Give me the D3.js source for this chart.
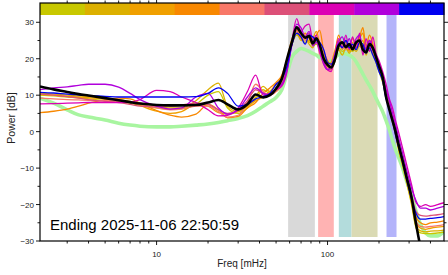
<!DOCTYPE html>
<html><head><meta charset="utf-8">
<script src="https://cdn.jsdelivr.net/npm/d3@7"></script>
<style>body{margin:0;background:#fff}svg{display:block;font-family:"Liberation Sans",Arial,Helvetica,sans-serif}</style>
</head><body><svg id="c" width="448" height="275"></svg>
<script>
const freqs = [2.08,2.5,3,3.5,4,5,6,7,8,10,12,14,17,20,23,26,30,34,38,42,46,50,54,58,
 62,66,70,74,78,82,86,90,95,100,105,110,116,122,128,134,140,147,154,161,168,176,184,192,200,210,220,230,240,250,260,275,290,310,330,350,375,400,440,480];
const avgPower = [12.4,11.6,10.9,10.3,9.9,9.2,8.6,8.1,7.7,7.3,7.2,7.2,7.3,8.0,8.7,7.5,6.1,7.5,10.2,9.4,10.0,11.8,14.5,20.0,
 24.7,28.6,27.0,25.8,26.2,24.2,25.6,23.8,20.0,18.3,17.6,19.5,23.5,24.5,23.2,24.0,22.6,24.5,25.0,22.5,21.8,24.0,23.0,20.5,18.0,15.0,9.5,6.0,3.0,0.0,-3.5,-8.0,-12.5,-18.0,-25.5,-31.5,-34,-35,-35,-35];
const refModel = [9.2,7.8,6.0,4.6,4.0,3.2,2.3,1.8,1.5,1.3,1.3,1.5,1.8,2.1,2.5,3.0,3.6,4.4,5.6,7.0,8.2,9.4,11.5,16.0,
 20.5,22.0,22.8,22.5,22.0,21.5,21.0,20.3,19.6,19.0,19.3,20.2,21.2,21.5,21.4,21.0,20.4,19.2,17.5,15.8,14.2,12.6,11.0,9.2,7.5,5.5,3.0,0.5,-2.5,-5.0,-7.0,-10.0,-13.5,-17.5,-22.0,-25.5,-27.8,-28.6,-28.6,-27.4];
const s1 = [10.0,9.8,9.5,9.3,9.0,8.5,8.2,7.8,7.2,6.5,6.2,6.3,7.5,10.0,11.0,6.5,5.0,6.5,9.0,11.5,10.5,11.0,13.0,18.0,
 24.0,26.5,25.5,24.5,25.0,23.5,24.0,22.5,20.0,18.5,18.0,19.5,23.0,22.0,22.5,22.5,22.0,23.0,23.5,23.5,22.0,22.5,21.5,19.0,16.5,13.5,9.5,6.0,2.5,-1.0,-5.0,-9.5,-14.0,-20.0,-26.5,-27.8,-28.0,-28.0,-27.8,-27.6];
const s2 = [10.6,10.3,10.0,9.8,9.6,9.2,8.8,8.3,7.8,7.0,6.5,6.5,8.5,11.5,13.3,7.0,5.5,7.0,9.5,12.4,11.0,11.5,13.5,18.5,
 24.5,27.0,25.0,25.5,24.0,23.0,25.0,23.0,19.5,18.0,17.0,19.0,22.5,21.0,23.0,21.5,23.0,22.0,24.0,25.0,21.0,23.5,22.0,19.5,17.0,14.0,10.0,6.5,3.0,-0.5,-4.5,-9.0,-13.5,-19.5,-26.0,-27.2,-27.5,-27.3,-27.2,-27.0];
const s3 = [10.2,10.0,9.7,9.5,9.3,9.0,8.8,8.2,7.2,5.6,5.0,5.5,7.5,7.0,5.2,4.8,5.5,7.0,8.5,9.5,11.0,13.0,15.0,19.5,
 25.0,28.0,25.5,26.5,24.5,25.5,27.5,24.0,21.0,18.5,19.0,22.0,25.0,22.5,24.5,22.0,24.5,23.0,25.5,27.0,22.5,25.0,23.5,20.0,17.5,15.0,10.5,7.0,4.0,0.0,-4.0,-8.5,-13.0,-19.0,-25.0,-26.5,-26.8,-26.5,-26.2,-26.0];
const s4 = [5.2,5.6,6.2,7.0,7.8,8.7,9.2,9.0,7.8,5.8,4.5,4.0,4.8,7.5,6.0,3.8,4.2,6.5,8.0,10.5,12.0,13.5,15.5,20.0,
 25.5,27.5,26.0,27.0,25.5,24.0,26.5,27.8,22.0,19.5,18.5,21.0,26.5,24.0,25.0,23.5,25.5,24.0,26.0,28.5,23.5,26.5,24.0,21.0,18.5,15.5,11.0,7.5,4.5,0.5,-3.5,-8.0,-12.5,-18.0,-23.5,-25.0,-25.5,-25.0,-24.8,-24.5];
const s5 = [9.2,9.0,8.8,8.7,8.6,8.5,8.4,8.0,7.5,6.5,6.0,6.2,7.0,7.0,5.5,4.0,4.5,8.0,13.0,11.0,10.0,11.0,13.0,17.5,
 24.5,27.5,26.5,25.0,26.0,24.5,25.0,22.0,19.5,17.5,17.5,20.0,23.5,23.5,22.5,23.5,22.5,24.0,23.5,22.5,22.5,23.5,22.0,20.0,17.5,14.5,10.5,7.0,3.5,0.0,-4.0,-8.5,-13.0,-18.5,-24.5,-26.0,-26.2,-26.0,-25.8,-25.5];
const s6 = [10.3,10.0,9.6,9.2,8.8,8.3,8.0,7.5,7.0,6.8,7.0,7.3,7.8,7.5,6.0,5.0,5.8,8.5,11.5,10.5,10.0,11.5,13.0,17.5,
 24.0,28.0,27.0,25.5,27.0,24.0,24.5,21.5,18.5,17.0,17.0,20.5,24.0,24.5,23.0,24.0,23.5,24.5,25.0,22.0,23.0,24.5,22.5,20.5,18.0,15.0,11.0,7.5,4.0,0.5,-3.0,-7.5,-12.0,-17.5,-22.0,-23.0,-23.2,-23.0,-22.8,-22.5];
const s7 = [7.6,7.7,7.8,7.9,8.0,8.0,8.0,8.1,8.8,11.3,11.0,9.5,8.0,6.0,4.3,4.5,6.5,11.0,15.5,10.0,10.5,11.5,12.5,16.5,
 25.0,31.0,27.5,29.0,29.5,25.0,26.5,22.0,19.0,17.0,16.5,20.5,25.5,23.0,26.5,22.5,26.0,23.0,27.0,21.0,25.5,22.0,26.0,21.5,19.5,16.5,13.0,9.0,6.5,3.0,0.0,-4.5,-9.0,-14.5,-19.5,-20.5,-20.0,-20.5,-20.0,-19.5];
const s8 = [11.5,12.0,12.3,12.7,13.0,13.0,12.2,10.5,8.8,7.0,6.2,6.5,9.5,10.5,6.5,4.8,6.0,9.5,12.0,10.5,10.0,12.0,13.0,17.0,
 24.0,29.5,28.5,26.0,27.5,23.5,24.5,22.5,18.5,17.0,18.0,21.0,24.5,26.0,23.5,25.5,23.0,25.5,26.5,22.0,23.0,25.0,22.5,21.0,18.5,15.0,11.5,8.5,5.0,2.0,-1.5,-6.0,-10.5,-15.5,-19.0,-21.0,-21.0,-21.5,-21.0,-20.5];
const s9 = [10.8,10.6,10.3,10.1,9.9,9.7,9.5,9.5,9.5,9.5,9.5,9.5,9.6,10.5,12.0,10.5,7.0,7.5,9.0,9.6,10.5,13.0,14.5,18.0,
 24.0,27.0,26.0,24.0,26.5,26.0,25.0,24.5,22.5,19.0,18.5,20.0,24.0,23.0,25.0,23.0,24.0,22.5,24.5,24.0,21.5,23.0,21.0,19.0,16.5,14.0,9.0,6.5,3.0,-1.0,-4.0,-8.5,-13.0,-18.5,-22.5,-24.0,-24.0,-23.8,-23.6,-23.3];
const seriesColors = ["#c8c800","#dcb000","#f0a000","#f88800","#f87868","#dc5078","#dc00b4","#b000dc","#0000f0"];
const bandRanges = [[58.8,84.3],[88.1,108.8],[116.4,138.2],[138.2,196.1],[221.3,253.2]];
const bandColors = ["#d9d9d9","#ffb3b3","#b3dcdc","#dadab4","#b4b4fa"];
const yMajor = [-30,-20,-10,0,10,20,30];
const yMinor = [-25,-15,-5,5,15,25];
const xMajor = [10,100];
const xMinor = [3,4,5,6,7,8,9,20,30,40,50,60,70,80,90,200,300,400];
const titleText = "Ending 2025-11-06 22:50:59";

const L=40,R=444,T=15,B=241,barTop=3;
const svg = d3.select("#c");
const x = d3.scaleLog().domain([2.08,480]).range([L,R]);
const y = d3.scaleLinear().domain([-30,32]).range([B,T]);

svg.append("clipPath").attr("id","clip").append("rect").attr("x",L).attr("y",T).attr("width",R-L).attr("height",B-T);

svg.append("g").selectAll("rect").data(bandRanges).join("rect")
 .attr("x",d=>x(d[0])).attr("width",d=>x(d[1])-x(d[0]))
 .attr("y",T).attr("height",B-T-4).attr("fill",(d,i)=>bandColors[i]);

const line = d3.line().x(d=>x(d[0])).y(d=>y(d[1])).curve(d3.curveMonotoneX);
const pts = v => freqs.map((f,i)=>[f,v[i]]);
const g = svg.append("g").attr("clip-path","url(#clip)");
g.append("path").attr("d",line(pts(refModel))).attr("fill","none").attr("stroke","#a8f5a0").attr("stroke-width",3.6).attr("stroke-linejoin","round");
[s1,s2,s3,s4,s5,s6,s7,s8,s9].forEach((s,i)=>{
 g.append("path").attr("d",line(pts(s))).attr("fill","none").attr("stroke",seriesColors[i]).attr("stroke-width",1.3).attr("stroke-linejoin","round");
});
g.append("path").attr("d",line(pts(avgPower))).attr("fill","none").attr("stroke","#000").attr("stroke-width",2.6).attr("stroke-linejoin","round");

const cb = d3.scaleBand().domain(d3.range(seriesColors.length)).range([L,R]);
svg.append("g").selectAll("rect").data(seriesColors).join("rect")
 .attr("x",(d,i)=>cb(i)).attr("width",cb.bandwidth()+0.5).attr("y",barTop).attr("height",T-barTop).attr("fill",d=>d);

svg.append("rect").attr("x",L).attr("y",barTop).attr("width",R-L).attr("height",B-barTop)
 .attr("fill","none").attr("stroke","#000").attr("stroke-width",1.2);

const tk = svg.append("g").attr("stroke","#000").attr("stroke-width",0.9);
xMajor.forEach(v=>{tk.append("line").attr("x1",x(v)).attr("x2",x(v)).attr("y1",B).attr("y2",B+4);
 tk.append("line").attr("x1",x(v)).attr("x2",x(v)).attr("y1",barTop).attr("y2",barTop-4);});
xMinor.forEach(v=>{tk.append("line").attr("x1",x(v)).attr("x2",x(v)).attr("y1",B).attr("y2",B+2.5);
 tk.append("line").attr("x1",x(v)).attr("x2",x(v)).attr("y1",barTop).attr("y2",barTop-2.5);});
yMajor.forEach(v=>{tk.append("line").attr("x1",L).attr("x2",L-4).attr("y1",y(v)).attr("y2",y(v));
 tk.append("line").attr("x1",R).attr("x2",R+4).attr("y1",y(v)).attr("y2",y(v));});
yMinor.forEach(v=>{tk.append("line").attr("x1",L).attr("x2",L-2.5).attr("y1",y(v)).attr("y2",y(v));
 tk.append("line").attr("x1",R).attr("x2",R+2.5).attr("y1",y(v)).attr("y2",y(v));});

svg.append("g").selectAll("text").data(yMajor).join("text")
 .attr("x",L-6).attr("y",d=>y(d)+3).attr("text-anchor","end").attr("font-size",8).attr("fill","#222")
 .text(d=>d<0?"\u2212"+Math.abs(d):d);
svg.append("g").selectAll("text").data(xMajor).join("text")
 .attr("x",d=>x(d)).attr("y",B+16).attr("text-anchor","middle").attr("font-size",8).attr("fill","#222").text(d=>d);

svg.append("text").attr("x",242).attr("y",267).attr("text-anchor","middle").attr("font-size",10).attr("fill","#222").text("Freq [mHz]");
svg.append("text").attr("transform","translate(15,"+((T+B)/2-10)+") rotate(-90)").attr("text-anchor","middle").attr("font-size",10.5).attr("fill","#222").text("Power [dB]");
svg.append("text").attr("x",50).attr("y",230).attr("font-size",15).attr("fill","#000").text(titleText);
</script></body></html>
